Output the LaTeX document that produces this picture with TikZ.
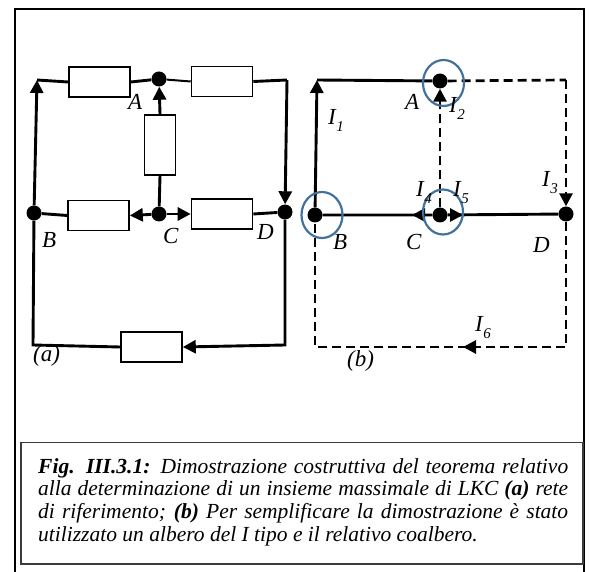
\documentclass[tikz,border=0pt]{standalone}
\usepackage{fontspec}
\setmainfont{Liberation Serif}
\usetikzlibrary{arrows.meta,shapes.geometric}
\definecolor{cblue}{RGB}{65,113,156}
\definecolor{cgray}{RGB}{60,60,60}
\newcommand{\Icur}[1]{\textit{I}\kern0.5pt\raisebox{-7pt}{\fontsize{15}{15}\selectfont\textit{#1}}}
\begin{document}
\begin{tikzpicture}[x=1pt,y=-1pt,
  wire/.style={line width=2.9pt},
  thinwire/.style={line width=2pt},
  dsh/.style={line width=2.7pt,dash pattern=on 9pt off 5pt},
  tri/.style={-{Triangle[length=13pt,width=13pt]}},
  dot/.style={circle,fill=black,inner sep=0pt,minimum size=15pt},
  res/.style={draw,line width=1.6pt,fill=white,inner sep=0pt,minimum width=61pt,minimum height=30pt},
  vres/.style={res,minimum width=31pt,minimum height=60pt},
  lab/.style={font=\fontsize{23}{27}\selectfont\itshape,inner sep=0pt},
  cutset/.style={draw=cblue,line width=2.2pt,ellipse,inner sep=0pt}]
\useasboundingbox (0,0) rectangle (590,572);
% outer frame
\draw[line width=2pt] (15,572) -- (15,9) -- (584,9) -- (584,572);

% ---------- circuit (a) ----------
\coordinate (aTL) at (37,80);
\coordinate (aTR) at (287,80);
\coordinate (aBR) at (285,345);
\coordinate (aBL) at (33,345);
\node[dot] (aA) at (159,79) {};
\node[dot] (aB) at (34,213) {};
\node[dot] (aC) at (159,214) {};
\node[dot] (aD) at (285,212) {};
\node[res] (aR1) at (99.5,82) {};
\node[res] (aR2) at (222,81.5) {};
\node[vres] (aR3) at (160,145) {};
\node[res] (aR4) at (98.5,215.5) {};
\node[res] (aR5) at (222,214) {};
\node[res] (aR6) at (151.5,347) {};

\draw[wire,tri] (aB) -- (aTL);
\draw[wire] (aTL) -- (aR1.west);
\draw[wire] (aR1.east) -- (aA);
\draw[thinwire] (aA) -- (aR2.west);
\draw[wire] (aR2.east) -- (aTR);
\draw[wire,tri] (aTR) -- (aD);
\draw[wire] (aC) -- (aR3.south);
\draw[wire,tri] (aR3.north) -- (aA);
\draw[wire] (aR4.west) -- (aB);
\draw[wire,tri] (aC) -- (aR4.east);
\draw[wire,tri] (aC) -- (aR5.west);
\draw[wire] (aR5.east) -- (aD);
\draw[wire,tri] (aD) -- (aBR) -- (aR6.east);
\draw[wire] (aR6.west) -- (aBL) -- (aB);

\node[lab,anchor=base west] (laA) at (128,110) {A};
\node[lab,anchor=base west] (laB) at (42,248) {B};
\node[lab,anchor=base west] (laC) at (163,244) {C};
\node[lab,anchor=base west] (laD) at (257,240) {D};
\node[lab,anchor=base west] (la) at (33,362) {(a)};

% ---------- circuit (b) ----------
\coordinate (bTL) at (317,80);
\coordinate (bTR) at (566,80);
\coordinate (bBR) at (566,347);
\coordinate (bBL) at (315,347);
\coordinate (bL4) at (412,215);
\coordinate (bR5) at (463,215);
\coordinate (bM6) at (463,347);
\coordinate (bM6t) at (476,347);
\node[dot] (bA) at (440,81) {};
\node[dot] (bB) at (315,215) {};
\node[dot] (bC) at (440,215) {};
\node[dot] (bD) at (566,214) {};

\draw[wire,tri] (bB) -- (bTL);
\draw[wire] (bTL) -- (bA);
\draw[dsh] (bA) -- (bTR);
\draw[dsh,tri] (bTR) -- (bD);
\draw[dsh,tri] (bC) -- (bA);
\draw[wire] (bB) -- (bC) -- (bD);
\draw[wire,tri] (bC) -- (bL4);
\draw[wire,tri] (bC) -- (bR5);
\draw[dsh] (bD) -- (bBR) -- (bBL) -- (bB);
\draw[wire,tri] (bM6t) -- (bM6);

\node[cutset,minimum width=41pt,minimum height=46pt] (cA) at (443.5,83) {};
\node[cutset,minimum width=41pt,minimum height=46pt] (cB) at (322,215) {};
\node[cutset,minimum width=40pt,minimum height=45pt] (cC) at (443,212) {};

\node[lab,anchor=base west] (lI1) at (328,125) {\Icur{1}};
\node[lab,anchor=base west] (lbA) at (405,110) {A};
\node[lab,anchor=base west] (lI2) at (449,113) {\Icur{2}};
\node[lab,anchor=base west] (lI3) at (542,187) {\Icur{3}};
\node[lab,anchor=base west] (lI4) at (416,197) {\Icur{4}};
\node[lab,anchor=base west] (lI5) at (453,197) {\Icur{5}};
\node[lab,anchor=base west] (lbB) at (333,250) {B};
\node[lab,anchor=base west] (lbC) at (406,250) {C};
\node[lab,anchor=base west] (lbD) at (533,253) {D};
\node[lab,anchor=base west] (lI6) at (475,332) {\Icur{6}};
\node[lab,anchor=base west] (lb) at (347,367) {(b)};

% ---------- caption ----------
\node[draw=cgray,line width=1.5pt,anchor=north west,inner sep=0pt,
      minimum width=562pt,minimum height=121pt] (capbox) at (20,442) {};
\node[anchor=north west,inner sep=0pt,text width=530pt,align=justify,
      font=\fontsize{21.5}{22.7}\selectfont\itshape] (cap) at (38,458)
 {\textbf{Fig. III.3.1:} Dimostrazione costruttiva del teorema relativo\linebreak
  alla determinazione di un insieme massimale di LKC \textbf{(\textit{a})} rete\linebreak
  di riferimento; \textbf{(\textit{b})} Per semplificare la dimostrazione è stato\linebreak
  utilizzato un albero del I tipo e il relativo coalbero.};
\end{tikzpicture}
\end{document}
